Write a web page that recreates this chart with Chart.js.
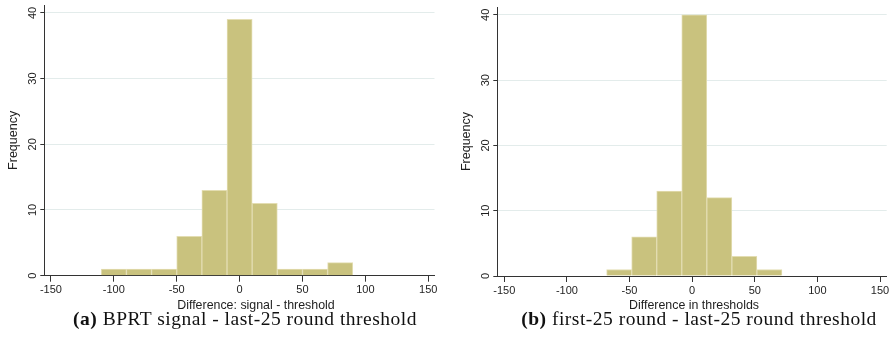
<!DOCTYPE html>
<html><head><meta charset="utf-8">
<script src="https://cdn.jsdelivr.net/npm/chart.js@4"></script>
<style>
body{margin:0;background:#fff;width:893px;height:341px;overflow:hidden;position:relative;font-family:"Liberation Sans",Arial,sans-serif}
canvas{position:absolute;top:0}
#ca{left:0}
#cb{left:446px}
.xt{position:absolute;top:298px;font-size:12.4px;color:#1e1e1e;white-space:nowrap;transform:translateX(-50%)}
.cap{position:absolute;top:308px;font-family:"Liberation Serif",serif;font-size:19.5px;letter-spacing:0.5px;white-space:nowrap;transform:translateX(-50%);color:#111}
</style></head>
<body>
<canvas id="ca" width="446" height="300"></canvas>
<canvas id="cb" width="447" height="300"></canvas>
<div class="xt" style="left:256px">Difference: signal - threshold</div>
<div class="xt" style="left:694px">Difference in thresholds</div>
<div class="cap" style="left:245px"><b>(a)</b> BPRT signal - last-25 round threshold</div>
<div class="cap" style="left:699px"><b>(b)</b> first-25 round - last-25 round threshold</div>
<script>
const xTicks = [-150, -100, -50, 0, 50, 100, 150];
const yTicks = [0, 10, 20, 30, 40];
const yTitle = 'Frequency';
// histogram (a): bin edges and counts
const edgesA = [-110, -90, -70, -50, -30, -10, 10, 30, 50, 70, 90];
const countsA = [1, 1, 1, 6, 13, 39, 11, 1, 1, 2];
// histogram (b): bin edges and counts
const edgesB = [-68.3, -48.3, -28.3, -8.3, 11.7, 31.7, 51.7, 71.7];
const countsB = [1, 6, 13, 40, 12, 3, 1];

const AXIS = '#333333';
const TXT = '#1e1e1e';
const BAR = '#c9c27e';
const BAR_EDGE = '#e3ddb2';
const GRID = '#e3eceb';

const yLabelPlugin = {
  id: 'ylab',
  afterDraw(chart) {
    const ctx = chart.ctx, s = chart.scales.y;
    ctx.save();
    ctx.font = '11px "Liberation Sans", Arial, sans-serif';
    ctx.fillStyle = TXT;
    ctx.textAlign = 'center';
    ctx.textBaseline = 'middle';
    yTicks.forEach(v => {
      const y = s.getPixelForValue(v);
      ctx.save();
      ctx.translate(s.right - 12, y);
      ctx.rotate(-Math.PI / 2);
      ctx.fillText(String(v), 0, 1);
      ctx.restore();
    });
    ctx.restore();
  }
};

function makeHist(id, edges, counts, o) {
  const pts = counts.map((c, i) => ({ x: (edges[i] + edges[i + 1]) / 2, y: c }));
  return new Chart(document.getElementById(id), {
    type: 'bar',
    data: { datasets: [{ data: pts, backgroundColor: BAR, borderColor: BAR_EDGE, borderWidth: 1, borderSkipped: 'bottom', barPercentage: 1, categoryPercentage: 1 }] },
    options: {
      responsive: false, animation: false, events: [],
      layout: { padding: { top: o.top, right: o.right, left: 0, bottom: 0 } },
      plugins: { legend: { display: false }, tooltip: { enabled: false } },
      scales: {
        x: {
          type: 'linear', min: o.xmin, max: o.xmax, offset: false,
          afterBuildTicks: s => { s.ticks = xTicks.map(v => ({ value: v })); },
          afterFit: s => { s.height = 300 - o.bottom; },
          grid: { offset: false, drawOnChartArea: false, drawTicks: true, tickLength: 6, tickColor: AXIS, tickWidth: 1 },
          border: { display: true, color: AXIS, width: 1 },
          ticks: { autoSkip: false, maxRotation: 0, minRotation: 0, padding: 2, color: TXT,
                   font: { family: '"Liberation Sans", Arial, sans-serif', size: 11 },
                   callback: v => String(v) }
        },
        y: {
          type: 'linear', min: 0, max: 41.2,
          afterBuildTicks: s => { s.ticks = yTicks.map(v => ({ value: v })); },
          afterFit: s => { s.width = o.axisX; },
          grid: { color: GRID, lineWidth: 1, tickColor: AXIS, tickLength: 4, drawTicks: true },
          border: { display: true, color: AXIS, width: 1 },
          ticks: { display: false },
          title: { display: true, text: yTitle, color: TXT, padding: { top: o.tpad, bottom: 0 },
                   font: { family: '"Liberation Sans", Arial, sans-serif', size: 12.5 } }
        }
      }
    },
    plugins: [yLabelPlugin]
  });
}

makeHist('ca', edgesA, countsA, { top: 5, right: 11.5, bottom: 275.7, axisX: 44.3, xmin: -155.3, xmax: 155, tpad: 5.8 });
makeHist('cb', edgesB, countsB, { top: 7, right: 6.3, bottom: 276, axisX: 51.3, xmin: -155.6, xmax: 155.35, tpad: 13.5 });
</script>
</body></html>
